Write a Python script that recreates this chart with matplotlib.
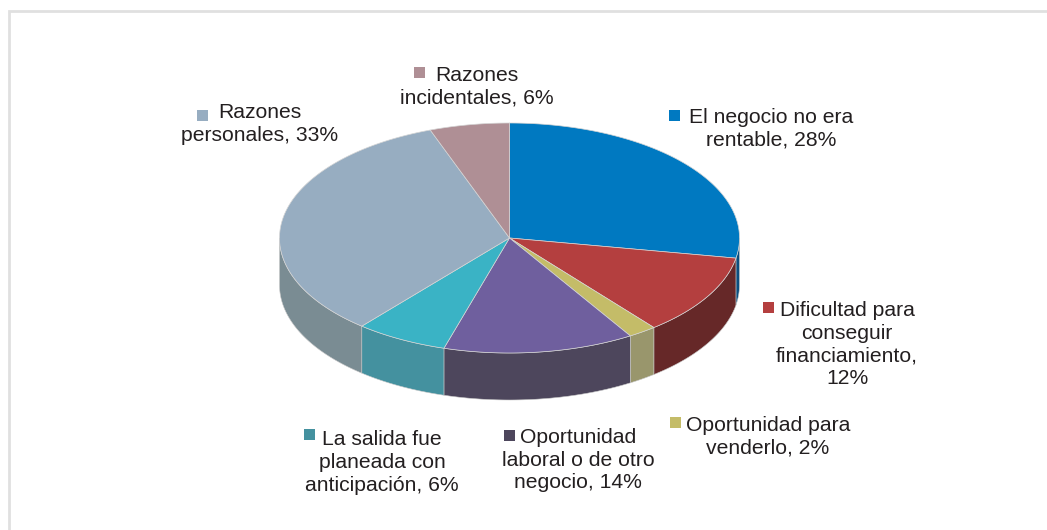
#!/usr/bin/env python3

import numpy as np
import matplotlib
matplotlib.use('Agg')
from matplotlib import pyplot as plt
from matplotlib.patches import Polygon, Rectangle

# shares as measured off the slices, clockwise from 12 o'clock
shares = [27.8, 11.4, 2.0, 13.4, 6.5, 33.3, 5.6]
labels = ['El negocio no era\nrentable, 28%',
          'Dificultad para\nconseguir\nfinanciamiento,\n12%',
          'Oportunidad para\nvenderlo, 2%',
          'Oportunidad\nlaboral o de otro\nnegocio, 14%',
          'La salida fue\nplaneada con\nanticipación, 6%',
          'Razones\npersonales, 33%',
          'Razones\nincidentales, 6%']
top_colors = ['#0079C1', '#B43F3F', '#C4BC68', '#6F5F9E', '#3AB3C5', '#97ADC1', '#AF8F95']
side_colors = ['#0B4F80', '#662828', '#99966C', '#4D465C', '#44919F', '#7A8C93', '#8A7076']
legend_colors = ['#0079C1', '#B43F3F', '#C4BC68', '#4D465C', '#44919F', '#97ADC1', '#AF8F95']

# text centre (x, y) and marker corner, pixels
label_pos = [(771, 128.5), (847, 344.5), (768, 436.5), (578, 460), (382, 462.5), (260, 124), (477, 87)]
marker_pos = [(669, 110), (763, 302), (670, 417), (504, 430), (304, 429), (197, 110), (414, 67)]

CX, CY = 509.5, 238
RX, RY = 230, 115
DEPTH = 47


def rim(a, b):
	t = np.radians(np.linspace(a, b, max(int(abs(b - a)) * 2, 2)))
	return CX + RX * np.sin(t), CY - RY * np.cos(t)


fig = plt.figure(figsize=(10.47, 5.30), dpi=100)
ax = fig.add_axes([0, 0, 1, 1])
ax.set_xlim(0, 1047)
ax.set_ylim(530, 0)
ax.axis('off')

# grey frame, top and left only
ax.plot([8.5, 8.5, 1047], [530, 11, 11], color='#E0E0E0', lw=2.0, solid_joinstyle='miter')

edges = np.concatenate([[0], np.cumsum(shares)]) * 360 / np.sum(shares)

# walls, only the front half shows
for i in range(len(shares)):
	a = max(edges[i], 90)
	b = min(edges[i + 1], 270)
	if b <= a:
		continue
	x, y = rim(a, b)
	pts = np.column_stack([np.r_[x, x[::-1]], np.r_[y, y[::-1] + DEPTH]])
	ax.add_patch(Polygon(pts, fc=side_colors[i], ec='#C9C9C9', lw=0.4, joinstyle='round'))

# top face
for i in range(len(shares)):
	x, y = rim(edges[i], edges[i + 1])
	pts = np.column_stack([np.r_[CX, x], np.r_[CY, y]])
	ax.add_patch(Polygon(pts, fc=top_colors[i], ec='#D5D5D5', lw=0.5, joinstyle='round'))

for i in range(len(labels)):
	ax.text(label_pos[i][0], label_pos[i][1], labels[i], ha='center', va='center',
		family='Liberation Sans', fontsize=15.2, color='#231F20', linespacing=1.25)
	ax.add_patch(Rectangle(marker_pos[i], 11, 11, fc=legend_colors[i], ec='none'))

fig.savefig('out.png', dpi=100)
